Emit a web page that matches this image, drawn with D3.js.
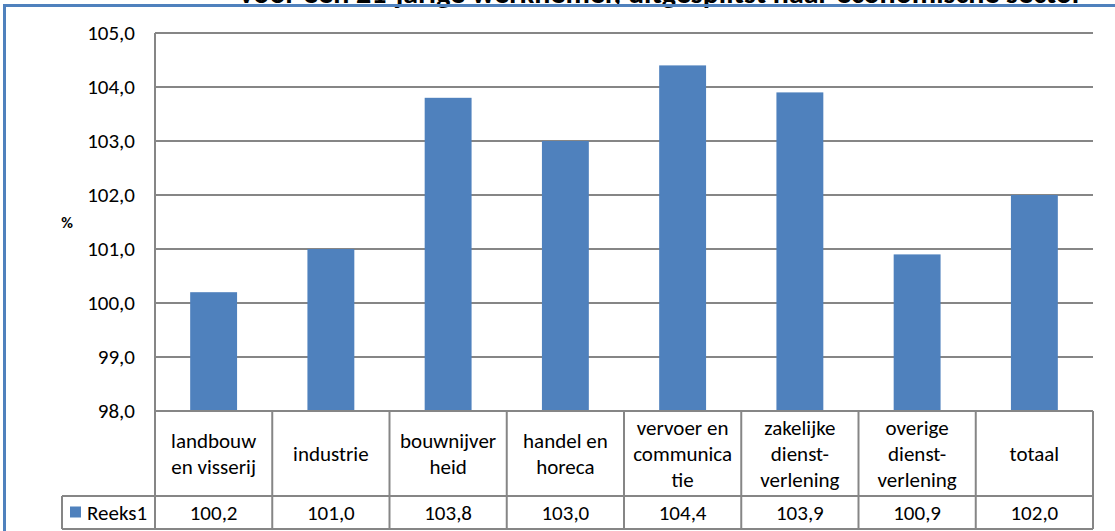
<!DOCTYPE html>
<html>
  <head>
    <meta charset="utf-8" />
    <script src="https://cdn.jsdelivr.net/npm/d3@7/dist/d3.min.js"></script>
    <style>
      body {
        margin: 0;
        background: white;
      }
      svg text {
        font-family: Carlito, Lato, "Liberation Sans", sans-serif;
        fill: #000;
      }
    </style>
  </head>
  <body>
    <svg id="chart"></svg>
    <script>
      // data
      const categories = [
        "landbouw en visserij",
        "industrie",
        "bouwnijverheid",
        "handel en horeca",
        "vervoer en communicatie",
        "zakelijke dienstverlening",
        "overige dienstverlening",
        "totaal"
      ];
      // how the category names wrap inside the table cells
      const categoryLines = [
        ["landbouw", "en visserij"],
        ["industrie"],
        ["bouwnijver", "heid"],
        ["handel en", "horeca"],
        ["vervoer en", "communica", "tie"],
        ["zakelijke", "dienst-", "verlening"],
        ["overige", "dienst-", "verlening"],
        ["totaal"]
      ];
      const values = [100.2, 101.0, 103.8, 103.0, 104.4, 103.9, 100.9, 102.0];
      const yTicks = [98, 99, 100, 101, 102, 103, 104, 105];
      const seriesName = "Reeks1";
      const title = "voor een 21-jarige werknemer, uitgesplitst naar economische sector";

      const width = 1115,
        height = 531;

      const plot = { left: 155, right: 1093, top: 33, bottom: 411 },
        catRowBottom = 496,
        tableBottom = 529,
        legendLeft = 62;

      const barColor = "#4f81bd",
        lineColor = "#868686",
        fontSize = "21px";

      const nl = d3.formatLocale({ decimal: ",", thousands: ".", grouping: [3], currency: ["", ""] });
      const fmt = nl.format(".1f");

      const svg = d3.select("#chart").attr("width", width).attr("height", height);

      // title, its upper part falls outside the picture as in the original
      svg
        .append("text")
        .attr("x", 661)
        .attr("y", 3)
        .attr("text-anchor", "middle")
        .style("font-weight", "bold")
        .style("font-size", "30px")
        .text(title);

      // blue outer frame
      svg
        .append("rect")
        .attr("x", 4.5)
        .attr("y", 5.5)
        .attr("width", width + 20)
        .attr("height", height + 20)
        .attr("fill", "none")
        .attr("stroke", barColor)
        .attr("stroke-width", 3);

      const y = d3.scaleLinear().domain([98, 105]).range([plot.bottom, plot.top]);

      const xCell = d3
        .scaleBand()
        .domain(categories)
        .range([plot.left, plot.right])
        .padding(0);

      const xBar = d3
        .scaleBand()
        .domain(categories)
        .range([plot.left, plot.right])
        .paddingInner(0.6)
        .paddingOuter(0.3);

      // gridlines
      svg
        .append("g")
        .selectAll("line")
        .data(yTicks.filter(t => t > 98))
        .join("line")
        .attr("x1", plot.left)
        .attr("x2", plot.right)
        .attr("y1", d => y(d))
        .attr("y2", d => y(d))
        .attr("stroke", lineColor)
        .attr("stroke-width", 2);

      // y tick labels
      svg
        .append("g")
        .selectAll("text")
        .data(yTicks)
        .join("text")
        .attr("x", 135)
        .attr("y", d => y(d))
        .attr("dy", "0.35em")
        .attr("text-anchor", "end")
        .style("font-size", fontSize)
        .text(d => fmt(d));

      svg
        .append("text")
        .attr("x", 67)
        .attr("y", (plot.top + plot.bottom) / 2)
        .attr("dy", "0.35em")
        .attr("text-anchor", "middle")
        .style("font-weight", "bold")
        .style("font-size", "16px")
        .text("%");

      // bars
      svg
        .append("g")
        .selectAll("rect")
        .data(values)
        .join("rect")
        .attr("x", (d, i) => xBar(categories[i]))
        .attr("width", xBar.bandwidth())
        .attr("y", d => y(d))
        .attr("height", d => y(98) - y(d))
        .attr("fill", barColor);

      // data table lines
      const table = svg.append("g").attr("stroke", lineColor).attr("stroke-width", 2);

      table
        .append("line")
        .attr("x1", plot.left)
        .attr("x2", plot.left)
        .attr("y1", plot.top)
        .attr("y2", tableBottom);

      const hLines = [
        [plot.left, plot.bottom],
        [legendLeft, catRowBottom],
        [legendLeft, tableBottom]
      ];
      table
        .selectAll(".h")
        .data(hLines)
        .join("line")
        .attr("x1", d => d[0])
        .attr("x2", plot.right)
        .attr("y1", d => d[1])
        .attr("y2", d => d[1]);

      table
        .selectAll(".v")
        .data(categories)
        .join("line")
        .attr("x1", d => xCell(d) + xCell.bandwidth())
        .attr("x2", d => xCell(d) + xCell.bandwidth())
        .attr("y1", plot.bottom)
        .attr("y2", tableBottom);

      table
        .append("line")
        .attr("x1", legendLeft)
        .attr("x2", legendLeft)
        .attr("y1", catRowBottom)
        .attr("y2", tableBottom);

      // category labels
      const catMid = (plot.bottom + catRowBottom) / 2,
        lineH = 26;

      const catText = svg
        .append("g")
        .selectAll("text")
        .data(categories)
        .join("text")
        .attr("text-anchor", "middle")
        .style("font-size", fontSize);

      catText.each(function(d, i) {
        const lines = categoryLines[i];
        const cx = xCell(d) + xCell.bandwidth() / 2;
        d3.select(this)
          .selectAll("tspan")
          .data(lines)
          .join("tspan")
          .attr("x", cx)
          .attr("y", (l, j) => catMid + (j - (lines.length - 1) / 2) * lineH)
          .attr("dy", "0.35em")
          .text(l => l);
      });

      // value row
      const valMid = (catRowBottom + tableBottom) / 2;
      svg
        .append("g")
        .selectAll("text")
        .data(values)
        .join("text")
        .attr("x", (d, i) => xCell(categories[i]) + xCell.bandwidth() / 2)
        .attr("y", valMid)
        .attr("dy", "0.35em")
        .attr("text-anchor", "middle")
        .style("font-size", fontSize)
        .text(d => fmt(d));

      // legend key
      svg
        .append("rect")
        .attr("x", 70)
        .attr("y", valMid - 6)
        .attr("width", 11)
        .attr("height", 11)
        .attr("fill", barColor);

      svg
        .append("text")
        .attr("x", 87)
        .attr("y", valMid)
        .attr("dy", "0.35em")
        .style("font-size", fontSize)
        .text(seriesName);
    </script>
  </body>
</html>
